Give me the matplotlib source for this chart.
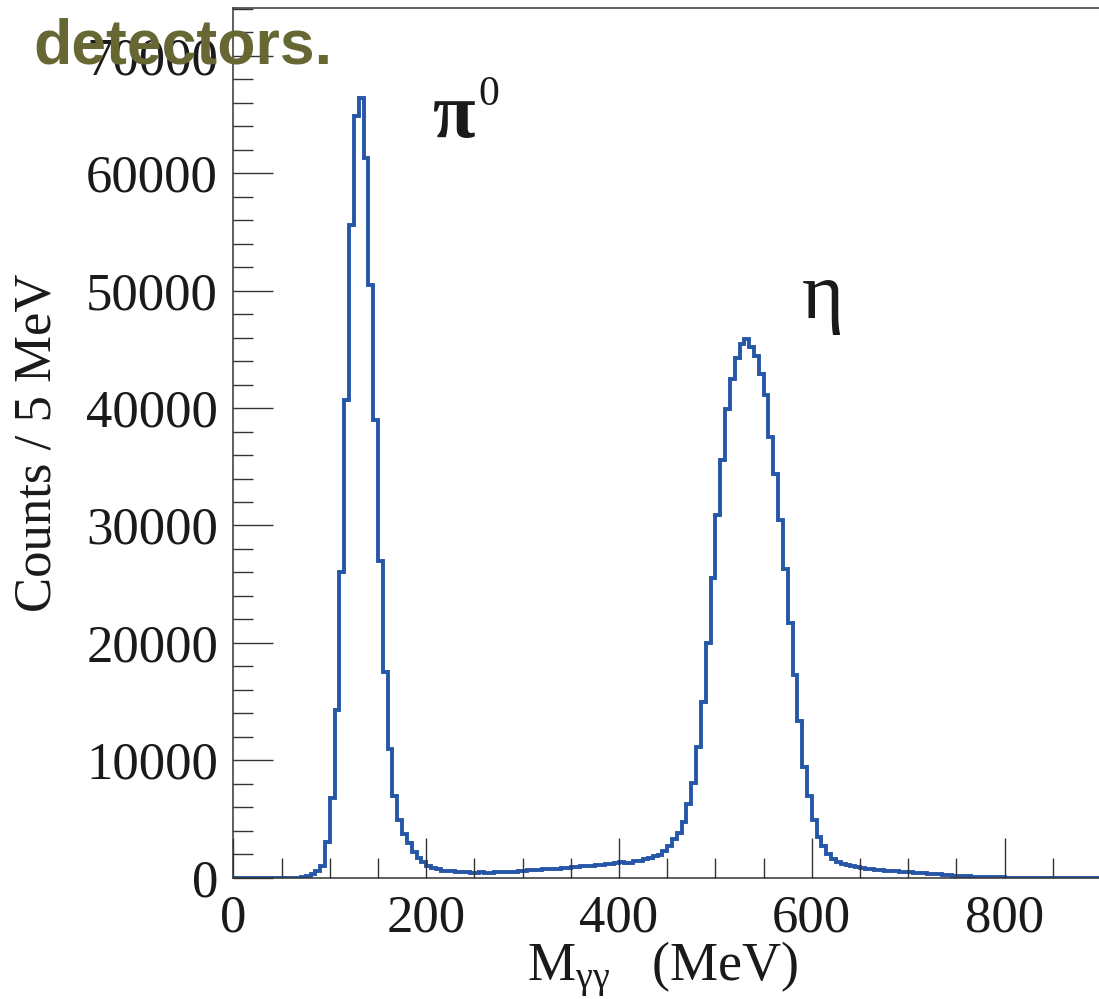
'''Diphoton invariant mass spectrum showing the pi0 and eta peaks.'''

import numpy as np
import matplotlib
matplotlib.use('Agg')
import matplotlib.pyplot as plt
from matplotlib.ticker import MultipleLocator

plt.rcParams['font.family'] = ['Liberation Serif', 'DejaVu Serif']
plt.rcParams['mathtext.fontset'] = 'custom'
plt.rcParams['mathtext.rm'] = 'Liberation Serif'

# 5 MeV bins from 0 to 900 MeV
bin_edges = np.arange(0, 905, 5)

# counts per bin
counts = [
    0, 0, 0, 0, 0, 0, 0, 0, 0, 0,                                    # 0-50
    0, 0, 0, 0, 80, 150, 350, 600, 1000, 3000,                       # 50-100
    6800, 14300, 26000, 40700, 55600, 64900, 66400, 61300, 50500, 39000,   # 100-150
    27000, 17500, 11000, 7000, 4900, 3700, 2930, 2220, 1650, 1300,   # 150-200
    1000, 850, 700, 600, 600, 580, 520, 500, 490, 430,               # 200-250
    420, 450, 410, 440, 460, 470, 480, 500, 520, 560,                # 250-300
    600, 630, 660, 690, 700, 720, 740, 760, 820, 850,                # 300-350
    870, 900, 960, 1000, 1030, 1060, 1100, 1130, 1160, 1250,         # 350-400
    1360, 1290, 1270, 1380, 1420, 1560, 1650, 1850, 1950, 2300,      # 400-450
    2730, 3270, 3800, 4770, 6250, 8100, 11150, 14950, 19980, 25550,  # 450-500
    30900, 35550, 39900, 42500, 44300, 45500, 45900, 45200, 44400, 42900,  # 500-550
    41100, 37500, 34400, 30500, 26300, 21700, 17300, 13350, 9470, 6930,    # 550-600
    4900, 3500, 2700, 2020, 1580, 1300, 1180, 1050, 1000, 880,       # 600-650
    800, 760, 700, 680, 650, 600, 580, 560, 500, 480,                # 650-700
    460, 400, 380, 360, 300, 290, 280, 270, 260, 180,                # 700-750
    170, 160, 150, 90, 85, 80, 80, 75, 70, 60,                       # 750-800
    15, 15, 10, 10, 10, 10, 10, 5, 5, 5,                             # 800-850
    5, 5, 5, 5, 0, 0, 0, 0, 0, 0,                                    # 850-900
]

W, H = 1099, 999
fig = plt.figure(figsize=(W / 100, H / 100), dpi=100)
ax = fig.add_axes([233.4 / W, 1 - 877.7 / H, 867.6 / W, 869.7 / H])

ax.stairs(counts, bin_edges, color='#2656a8', lw=2.8, baseline=None)

ax.set_xlim(0, 900)
ax.set_ylim(0, 74080)

ax.xaxis.set_major_locator(MultipleLocator(200))
ax.xaxis.set_minor_locator(MultipleLocator(50))
ax.yaxis.set_major_locator(MultipleLocator(10000))
ax.yaxis.set_minor_locator(MultipleLocator(2000))

ax.tick_params(which='both', direction='in', color='#333333', width=1.0,
               labelsize=38, labelcolor='#1a1a1a')
ax.tick_params(which='major', length=28.5)
ax.tick_params(which='minor', length=14.5)
ax.tick_params(axis='y', pad=11)
ax.tick_params(axis='x', pad=12)

for side in ['left', 'top', 'bottom', 'right']:
    ax.spines[side].set_color('#333333')
    ax.spines[side].set_linewidth(1.1)

ax.set_ylabel('Counts / 5 MeV', fontsize=38, color='#1a1a1a', va='center', ha='center')
ax.yaxis.set_label_coords((38 - 233.4) / 867.6, 0.5)
ax.set_xlabel(r'M$_{\mathregular{γγ}}$   (MeV)', fontsize=39, color='#1a1a1a', va='center')
ax.xaxis.set_label_coords((663 - 233.4) / 867.6, -(969 - 877.7) / 869.7)

# particle labels
ax.text(206, 63100, 'π', fontsize=56, fontweight='bold', color='#1a1a1a',
        ha='left', va='baseline')
ax.text(254, 65800, '0', fontsize=30, color='#1a1a1a', ha='left', va='baseline')
ax.text(590, 47700, 'η', fontsize=58, color='#1a1a1a', ha='left', va='baseline')

# slide text overlapping the top of the plot
fig.text(33 / W, 1 - 63 / H, 'detectors.', fontsize=45, fontweight='bold',
         family='Liberation Sans', color='#676733', ha='left', va='baseline')

fig.savefig('out.png', dpi=100)
